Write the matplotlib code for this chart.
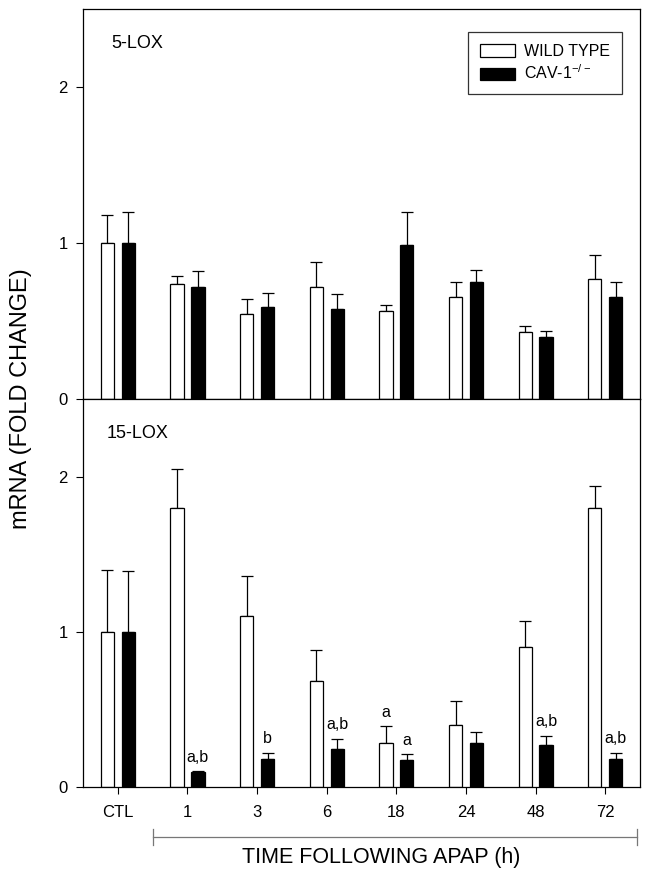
import numpy as np
import matplotlib
matplotlib.use("Agg")
import matplotlib.pyplot as plt
import matplotlib.transforms as mtransforms

plt.rcParams['font.family'] = ['Liberation Sans', 'DejaVu Sans']
plt.rcParams['mathtext.fontset'] = 'custom'
plt.rcParams['mathtext.rm'] = 'Liberation Sans'

# time points
labels = ['CTL', '1', '3', '6', '18', '24', '48', '72']

# 5-LOX
lox5_wt = [1.00, 0.74, 0.545, 0.72, 0.565, 0.655, 0.43, 0.77]
lox5_wt_err = [0.18, 0.05, 0.10, 0.16, 0.04, 0.10, 0.04, 0.155]
lox5_ko = [1.00, 0.72, 0.595, 0.58, 0.99, 0.755, 0.40, 0.655]
lox5_ko_err = [0.20, 0.10, 0.085, 0.095, 0.21, 0.075, 0.04, 0.095]

# 15-LOX
lox15_wt = [1.00, 1.80, 1.10, 0.68, 0.28, 0.40, 0.90, 1.80]
lox15_wt_err = [0.40, 0.25, 0.26, 0.20, 0.11, 0.15, 0.17, 0.14]
lox15_ko = [1.00, 0.095, 0.18, 0.24, 0.17, 0.28, 0.27, 0.18]
lox15_ko_err = [0.39, 0.005, 0.04, 0.07, 0.04, 0.07, 0.06, 0.04]

# significance letters (15-LOX): (index, group, text)
marks = [(1, 'ko', 'a,b'), (2, 'ko', 'b'), (3, 'ko', 'a,b'), (4, 'wt', 'a'),
         (4, 'ko', 'a'), (6, 'ko', 'a,b'), (7, 'ko', 'a,b')]

x = np.arange(len(labels))
w = 0.19
off = 0.15

fig = plt.figure(figsize=(6.5, 8.77), dpi=100)
ax1 = fig.add_axes([0.1277, 0.5445, 0.857, 0.4453])
ax2 = fig.add_axes([0.1277, 0.103, 0.857, 0.4415])


def draw_panel(ax, wt, wt_err, ko, ko_err):
    ax.bar(x - off, wt, w, color='white', edgecolor='black', linewidth=0.9,
           label='WILD TYPE', zorder=2)
    ax.bar(x + off, ko, w, color='black', edgecolor='black', linewidth=0.9,
           label='CAV-1$^{\\mathrm{-/-}}$', zorder=2)
    ax.errorbar(x - off, wt, yerr=[np.zeros(len(x)), wt_err], fmt='none',
                ecolor='black', elinewidth=0.9, capsize=4.3, capthick=0.9, zorder=1)
    ax.errorbar(x + off, ko, yerr=[np.zeros(len(x)), ko_err], fmt='none',
                ecolor='black', elinewidth=0.9, capsize=4.3, capthick=0.9, zorder=1)
    ax.set_xlim(-0.5, 7.5)
    ax.set_ylim(0, 2.5)
    ax.set_yticks([0, 1, 2])
    ax.set_yticklabels(['0', '1', '2'], fontsize=12)
    ax.set_xticks(x)
    ax.tick_params(direction='out', length=5, width=0.8)
    for s in ax.spines.values():
        s.set_linewidth(0.9)


draw_panel(ax1, lox5_wt, lox5_wt_err, lox5_ko, lox5_ko_err)
draw_panel(ax2, lox15_wt, lox15_wt_err, lox15_ko, lox15_ko_err)

ax1.set_xticklabels([])
ax2.set_xticklabels(labels, fontsize=12)
ax2.tick_params(axis='x', pad=8)
ax1.tick_params(axis='y', pad=6)
ax2.tick_params(axis='y', pad=6)

ax1.text(0.051, 0.912, '5-LOX', transform=ax1.transAxes, fontsize=13, va='center')
ax2.text(0.042, 0.913, '15-LOX', transform=ax2.transAxes, fontsize=13, va='center')

for i, grp, txt in marks:
    if grp == 'wt':
        xx, top = x[i] - off, lox15_wt[i] + lox15_wt_err[i]
    else:
        xx, top = x[i] + off, lox15_ko[i] + lox15_ko_err[i]
    ax2.text(xx, top + 0.04, txt, ha='center', va='bottom', fontsize=11.5)

leg = ax1.legend(loc='upper right', bbox_to_anchor=(0.968, 0.941), fontsize=11.5,
                 frameon=True, fancybox=False, edgecolor='black',
                 handlelength=2.2, handleheight=0.8, borderpad=0.75,
                 labelspacing=0.3, handletextpad=0.6, borderaxespad=0)
leg.get_frame().set_linewidth(0.9)

fig.text(0.032, 0.545, 'mRNA (FOLD CHANGE)', rotation=90, fontsize=17,
         ha='center', va='center')

# bracket under time points
trans = mtransforms.blended_transform_factory(ax2.transData, fig.transFigure)
yb = 1 - 836.7 / 877
ax2.plot([0.5, 7.46], [yb, yb], color='#777777', lw=0.9, transform=trans, clip_on=False)
for xb in (0.5, 7.46):
    ax2.plot([xb, xb], [yb - 0.009, yb + 0.009], color='#777777', lw=0.9,
             transform=trans, clip_on=False)
fig.text(0.586, 1 - 857 / 877, 'TIME FOLLOWING APAP (h)', fontsize=15.5,
         ha='center', va='center')

fig.savefig('out.png', dpi=100)
